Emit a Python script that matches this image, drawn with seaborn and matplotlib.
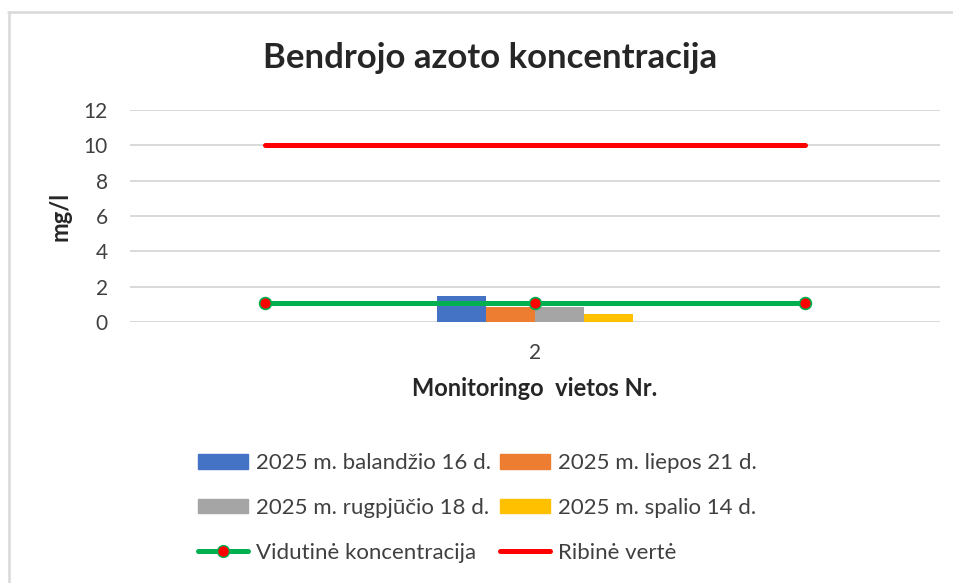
import pandas as pd
import seaborn as sns
import matplotlib.pyplot as plt
from matplotlib.lines import Line2D

# Duomenys
vietos = ["2"]
datos = ["2025 m. balandžio 16 d.", "2025 m. liepos 21 d.",
         "2025 m. rugpjūčio 18 d.", "2025 m. spalio 14 d."]
reiksmes = [1.47, 0.87, 0.87, 0.45]
spalvos = ["#4472c4", "#ed7d31", "#a5a5a5", "#ffc000"]

linijos_x = [0, 1, 2]
vidutine = [1.05, 1.05, 1.05]
ribine = [10, 10, 10]

sns.set_style("white")
plt.rcParams["font.family"] = ["Lato", "DejaVu Sans"]

df = pd.DataFrame({"Vieta": vietos * len(datos), "Data": datos, "Reiksme": reiksmes})

fig = plt.figure(figsize=(9.54, 5.83), dpi=100)
ax = fig.add_axes([130 / 954, 1 - 322 / 583, 810 / 954, 212 / 583])

sns.barplot(data=df, x="Vieta", y="Reiksme", hue="Data", palette=spalvos,
            width=0.242, ax=ax, legend=False, saturation=1, edgecolor="none")
ax.set_xlim(-0.5, 0.5)
ax.set_ylim(0, 12)
ax.set_yticks(range(0, 13, 2))
ax.yaxis.grid(True, color="#d9d9d9", lw=1.4)
ax.set_axisbelow(True)
sns.despine(ax=ax, left=True, bottom=True)
ax.tick_params(axis="both", length=0, labelsize=15, colors="#404040")
ax.tick_params(axis="y", pad=16)
ax.tick_params(axis="x", pad=15)
ax.set_xlabel("Monitoringo  vietos Nr.", fontsize=17, fontweight="bold", labelpad=10)
ax.set_ylabel("mg/l", fontsize=17, fontweight="bold", labelpad=9)

# Linijos ant antrinės ašies
ax2 = ax.twiny()
sns.lineplot(x=linijos_x, y=ribine, ax=ax2, color="#ff0000", lw=3.6,
             solid_capstyle="round")
sns.lineplot(x=linijos_x, y=vidutine, ax=ax2, color="#00b050", lw=3.6,
             marker="o", markersize=8.5, markerfacecolor="#ff0000",
             markeredgecolor="#00b050", markeredgewidth=1.2)
ax2.set_xlim(-0.5, 2.5)
ax2.set_ylim(0, 12)
ax2.set_xticks([])
sns.despine(ax=ax2, left=True, bottom=True, top=True, right=True)

fig.suptitle("Bendrojo azoto koncentracija", x=490 / 954, y=1 - 58 / 583,
             va="center", fontsize=25, fontweight="bold")

# Legenda
patches = [plt.Rectangle((0, 0), 1, 1, color=c) for c in spalvos]
h_vid = Line2D([], [], color="#00b050", lw=3.6, marker="o", markersize=8.5,
               markerfacecolor="#ff0000", markeredgecolor="#00b050")
h_rib = Line2D([], [], color="#ff0000", lw=3.6, solid_capstyle="round")
handles = [patches[0], patches[2], h_vid, patches[1], patches[3], h_rib]
labels = [datos[0], datos[2], "Vidutinė koncentracija",
          datos[1], datos[3], "Ribinė vertė"]
fig.legend(handles, labels, ncol=2, loc="center",
           bbox_to_anchor=(477 / 954, 1 - 508 / 583), frameon=False,
           fontsize=16, labelcolor="#404040", handlelength=2.25, handleheight=0.63,
           handletextpad=0.36, columnspacing=0.4, labelspacing=1.12)

# Rėmelis
fig.add_artist(Line2D([8.5 / 954, 1], [1 - 12 / 583] * 2, color="#d9d9d9", lw=1.8))
fig.add_artist(Line2D([9 / 954] * 2, [0, 1 - 12 / 583], color="#d9d9d9", lw=1.8))

fig.savefig("out.png", dpi=100)
